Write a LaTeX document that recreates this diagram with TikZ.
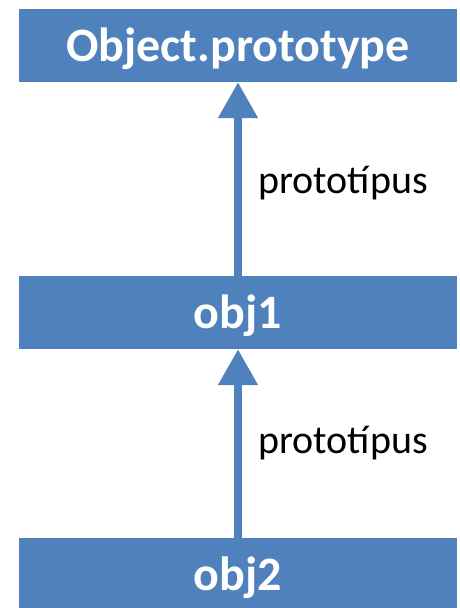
\documentclass[tikz,border=0pt]{standalone}
\usepackage{fontspec}
\setmainfont{Carlito}
\usetikzlibrary{arrows.meta}
\definecolor{boxblue}{HTML}{4F81BD}
\tikzset{
  objbox/.style={rectangle, fill=boxblue, draw=none, minimum width=438pt, minimum height=73pt, inner sep=0pt, text height=40pt, text depth=8pt, text=white, font=\fontsize{48}{52}\selectfont\bfseries},
  protoarrow/.style={draw=boxblue, line width=8pt, -{Triangle[width=38pt,length=36pt]}, shorten >=0pt},
  lbl/.style={anchor=base west, inner sep=0pt, text=black, font=\fontsize{40}{44}\selectfont}
}
\begin{document}
\begin{tikzpicture}[x=1pt,y=-1pt]
\useasboundingbox (0,0) rectangle (460,608);
\clip (0,0) rectangle (460,608);
\node[objbox] (top) at (238,45.5) {Object.prototype};
\node[objbox] (obj1) at (238,312.5) {obj1};
\node[objbox] (obj2) at (238,574.5) {obj2};
\draw[protoarrow] (obj1.north) -- (top.south);
\draw[protoarrow] (obj2.north) -- (obj1.south);
\node[lbl] (l1) at (258,193) {prototípus};
\node[lbl] (l2) at (258,453) {prototípus};
\end{tikzpicture}
\end{document}
